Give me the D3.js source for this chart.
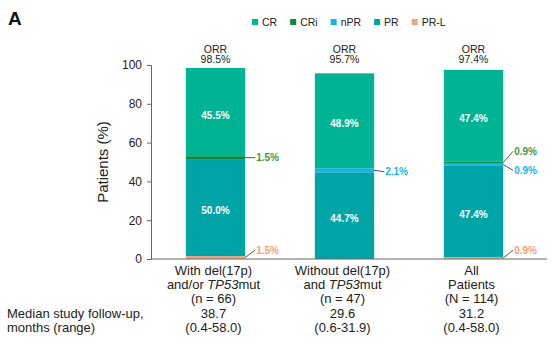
<!DOCTYPE html>
<html>
<head>
<meta charset="utf-8">
<script src="https://cdn.jsdelivr.net/npm/d3@7"></script>
<style>
  body { margin: 0; background: #fff; }
  svg { font-family: "Liberation Sans", Arial, sans-serif; }
</style>
</head>
<body>
<div id="chart"></div>
<script>
// response categories, bottom of the stack first
const responses = ["PR-L", "PR", "nPR", "CRi", "CR"];
const legendOrder = ["CR", "CRi", "nPR", "PR", "PR-L"];
const colors = {
    "CR": "#00b393",
    "CRi": "#0b8a40",
    "nPR": "#15b4e6",
    "PR": "#00a4a7",
    "PR-L": "#f4a17f"
};
const labelColors = {
    "CRi": "#3a9a40",
    "nPR": "#1cb4e8",
    "PR-L": "#f4a07c"
};

const groups = ["del17p", "noDel17p", "all"];
const groupLines = [
    ["With del(17p)", "and/or |TP53|mut", "(n = 66)"],
    ["Without del(17p)", "and |TP53|mut", "(n = 47)"],
    ["All", "Patients", "(N = 114)"]
];
const followUp = ["38.7", "29.6", "31.2"];
const followUpRange = ["(0.4-58.0)", "(0.6-31.9)", "(0.4-58.0)"];
const orr = ["98.5%", "95.7%", "97.4%"];

// percentages per response for each group
const values = [
    { "PR-L": 1.5, "PR": 50.0, "nPR": 0, "CRi": 1.5, "CR": 45.5 },
    { "PR-L": 0, "PR": 44.7, "nPR": 2.1, "CRi": 0, "CR": 48.9 },
    { "PR-L": 0.9, "PR": 47.4, "nPR": 0.9, "CRi": 0.9, "CR": 47.4 }
];
const yTicks = [0, 20, 40, 60, 80, 100];

// small segments get a label beside the bar; dy moves the label off the segment
const sideLabels = [
    { group: 0, key: "CRi", dy: 0 },
    { group: 0, key: "PR-L", dy: -7.5 },
    { group: 1, key: "nPR", dy: 1.5 },
    { group: 2, key: "CRi", dy: -11.5 },
    { group: 2, key: "nPR", dy: 6 },
    { group: 2, key: "PR-L", dy: -8 }
];

const width = 556, height = 344;
const svg = d3.select("#chart").append("svg")
    .attr("width", width)
    .attr("height", height);

const x = d3.scaleBand()
    .domain(groups)
    .range([151, 538])
    .paddingInner(0.54)
    .paddingOuter(0.27);

const y = d3.scaleLinear()
    .domain([0, 100])
    .range([259, 65]);

const table = values.map((v, i) => Object.assign({ group: groups[i] }, v));
const series = d3.stack().keys(responses)(table);

// bars
svg.append("g")
    .selectAll("g")
    .data(series)
    .join("g")
    .attr("fill", d => colors[d.key])
    .selectAll("rect")
    .data(d => d.filter(s => s[1] > s[0]))
    .join("rect")
    .attr("x", d => x(d.data.group))
    .attr("y", d => y(d[1]))
    .attr("width", x.bandwidth())
    .attr("height", d => y(d[0]) - y(d[1]));

// big segment labels inside bars
const inside = [];
series.forEach(s => s.forEach(d => {
    if (d[1] - d[0] > 10) inside.push({ seg: d, text: (d[1] - d[0]).toFixed(1) + "%" });
}));
svg.append("g")
    .selectAll("text")
    .data(inside)
    .join("text")
    .attr("x", d => x(d.seg.data.group) + x.bandwidth() / 2)
    .attr("y", d => y((d.seg[0] + d.seg[1]) / 2) + 6.5)
    .attr("text-anchor", "middle")
    .attr("font-size", "10px")
    .attr("font-weight", "bold")
    .attr("fill", "#fff")
    .text(d => d.text);

// side labels with leader lines
const side = svg.append("g");
sideLabels.forEach(l => {
    const s = series[responses.indexOf(l.key)][l.group];
    const x0 = x(groups[l.group]) + x.bandwidth();
    const ySeg = y((s[0] + s[1]) / 2);
    side.append("line")
        .attr("x1", x0)
        .attr("y1", ySeg)
        .attr("x2", x0 + 10)
        .attr("y2", ySeg + l.dy)
        .attr("stroke", "#555")
        .attr("stroke-width", 1);
    side.append("text")
        .attr("x", x0 + 11)
        .attr("y", ySeg + l.dy + 3.6)
        .attr("font-size", "10px")
        .attr("font-weight", "bold")
        .attr("fill", labelColors[l.key])
        .text(values[l.group][l.key].toFixed(1) + "%");
});

// ORR above each bar
const orrG = svg.append("g")
    .selectAll("text")
    .data(groups)
    .join("text")
    .attr("x", d => x(d) + x.bandwidth() / 2)
    .attr("text-anchor", "middle")
    .attr("font-size", "10.5px")
    .attr("fill", "#222");
orrG.append("tspan").attr("y", 52.5).text("ORR");
orrG.append("tspan")
    .attr("x", d => x(d) + x.bandwidth() / 2)
    .attr("y", 63)
    .text((d, i) => orr[i]);

// y axis
const yAxis = svg.append("g")
    .attr("transform", "translate(151,0)")
    .call(d3.axisLeft(y).tickValues(yTicks).tickSize(4).tickPadding(5));
yAxis.selectAll("text").attr("font-size", "12px").attr("fill", "#222").attr("font-family", null);
yAxis.selectAll("line, path").attr("stroke", "#666");

svg.append("text")
    .attr("transform", `translate(108,${(y(0) + y(100)) / 2}) rotate(-90)`)
    .attr("text-anchor", "middle")
    .attr("font-size", "15px")
    .attr("fill", "#222")
    .text("Patients (%)");

// x baseline
svg.append("line")
    .attr("x1", 151)
    .attr("x2", 547)
    .attr("y1", y(0))
    .attr("y2", y(0))
    .attr("stroke", "#666");

// group labels and follow-up rows
const lineH = 14.2;
const rowY = 275;
groups.forEach((g, i) => {
    const cx = x(g) + x.bandwidth() / 2 - 2;
    const rows = groupLines[i].concat([followUp[i], followUpRange[i]]);
    rows.forEach((r, j) => {
        const t = svg.append("text")
            .attr("x", cx)
            .attr("y", rowY + j * lineH)
            .attr("text-anchor", "middle")
            .attr("font-size", "13px")
            .attr("fill", "#222");
        r.split("|").forEach((part, k) => {
            t.append("tspan")
                .attr("font-style", k % 2 ? "italic" : null)
                .text(part);
        });
    });
});

svg.append("text")
    .attr("x", 7)
    .attr("y", rowY + 3 * lineH)
    .attr("font-size", "13px")
    .attr("fill", "#222")
    .text("Median study follow-up,");
svg.append("text")
    .attr("x", 7)
    .attr("y", rowY + 4 * lineH)
    .attr("font-size", "13px")
    .attr("fill", "#222")
    .text("months (range)");

// panel letter
svg.append("text")
    .attr("x", 8)
    .attr("y", 25)
    .attr("font-size", "19px")
    .attr("font-weight", "bold")
    .attr("fill", "#111")
    .text("A");

// legend
const legend = svg.append("g").attr("transform", "translate(252,0)");
let lx = 0;
legendOrder.forEach(k => {
    legend.append("rect")
        .attr("x", lx)
        .attr("y", 19)
        .attr("width", 6)
        .attr("height", 6)
        .attr("fill", colors[k]);
    const t = legend.append("text")
        .attr("x", lx + 10)
        .attr("y", 25.5)
        .attr("font-size", "10.5px")
        .attr("fill", "#222")
        .text(k);
    lx += 10 + t.node().getComputedTextLength() + 13;
});
</script>
</body>
</html>
